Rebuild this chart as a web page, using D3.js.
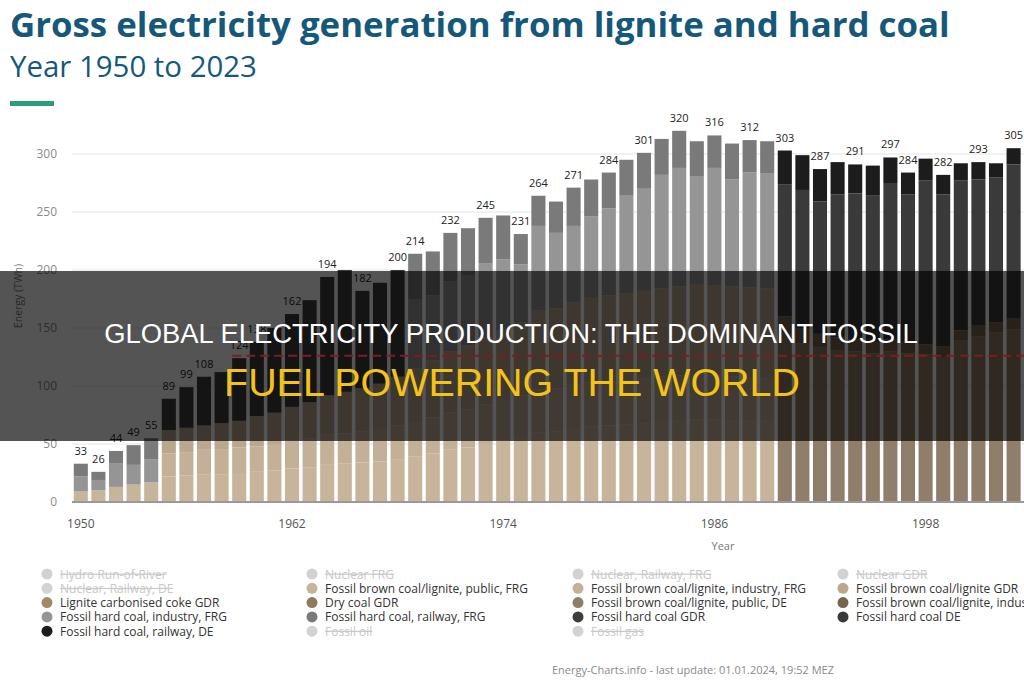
<!DOCTYPE html>
<html>
<head>
<meta charset="utf-8">
<script src="https://cdn.jsdelivr.net/npm/d3@7/dist/d3.min.js"></script>
<style>
  body { margin: 0; background: #fff; overflow: hidden; }
  svg { display: block; font-family: "Open Sans", sans-serif; }
</style>
</head>
<body>
<svg width="1024" height="680"></svg>
<script>
// years shown on the band axis (the chart runs to 2023, the picture is cut at ~2003)
const axisYears = d3.range(1950, 2024);
const tickYears = [1950, 1962, 1974, 1986, 1998];
const yTicks = [0, 50, 100, 150, 200, 250, 300];
const labelYears = [1950, 1951, 1952, 1953, 1954, 1955, 1956, 1957, 1959, 1960, 1962, 1964, 1966, 1968,
  1969, 1971, 1973, 1975, 1976, 1978, 1980, 1982, 1984, 1986, 1988, 1990, 1992, 1994, 1996, 1997,
  1999, 2001, 2003];

// TWh, each series starts at the year given in "parts" below
const brownPublicFRG = [9, 10, 13, 15, 17,
  22, 23, 24, 24, 25, 26, 27, 29, 30, 32, 33, 34, 35, 37,
  39, 42, 45, 47, 50, 53, 56, 60, 61, 63, 65, 66, 67, 68, 69, 70, 71, 71, 70, 70, 70];
const brownIndustryFRG = [20, 20, 21, 21, 22, 22, 23, 24, 25, 26, 26, 27, 28, 29,
  30, 31, 32, 33, 34, 35, 36, 37, 37, 38, 38, 38, 38, 39, 39, 39, 39, 38, 38, 37, 37];
const brownGDR = [20, 21, 21, 23, 23, 26, 27, 29, 31, 34, 36, 37, 39, 42,
  46, 49, 53, 55, 58, 60, 63, 68, 69, 71, 73, 74, 75, 75, 76, 77, 78, 78, 78, 78, 77];
const brownPublicDE = [145, 137, 133, 131, 130, 128, 130, 128, 127, 125, 139, 143, 146, 149];
const brownIndustryDE = [15, 13, 12, 11, 10, 10, 10, 10, 9, 9, 9, 9, 9, 9];
const hardIndustryFRGa = [13, 9, 20, 17, 20];
const hardIndustryFRGb = [60, 56, 60, 60, 64, 61, 50, 73, 65, 66, 70, 75, 84, 88, 98, 102, 93, 101, 92, 99, 99];
const hardGDR = [27, 35, 42, 44, 54, 64, 73, 80, 88, 102, 105, 84, 87, 92];
const hardDE = [114, 119, 114, 123, 126, 126, 135, 127, 141, 131, 129, 126, 125, 133];
const hardRailwayFRGa = [11, 7, 11, 17, 18];
const hardRailwayFRGb = [39, 38, 42, 41, 39, 38, 26, 26, 27, 33, 32, 31, 31, 31, 31, 32, 30, 28, 31, 28, 28];
const hardRailwayDE = [29, 30, 28, 28, 25, 26, 22, 19, 19, 17, 15, 15, 12, 14];
const refLine = 126;

const series = [
  { key: "Fossil brown coal/lignite, public, FRG", color: "#c7b59b", parts: [[1950, brownPublicFRG]] },
  { key: "Fossil brown coal/lignite, industry, FRG", color: "#c3b197", parts: [[1955, brownIndustryFRG]] },
  { key: "Fossil brown coal/lignite, GDR", color: "#b9a78e", parts: [[1955, brownGDR]] },
  { key: "Fossil brown coal/lignite, public, DE", color: "#8f7e69", parts: [[1990, brownPublicDE]] },
  { key: "Fossil brown coal/lignite, industry, DE", color: "#76644f", parts: [[1990, brownIndustryDE]] },
  { key: "Fossil hard coal, industry, FRG", color: "#959595", parts: [[1950, hardIndustryFRGa], [1969, hardIndustryFRGb]] },
  { key: "Fossil hard coal GDR", color: "#3d3d3d", parts: [[1955, hardGDR]] },
  { key: "Fossil hard coal DE", color: "#3a3a3a", parts: [[1990, hardDE]] },
  { key: "Fossil hard coal, railway, FRG", color: "#7a7a7a", parts: [[1950, hardRailwayFRGa], [1969, hardRailwayFRGb]] },
  { key: "Fossil hard coal, railway, DE", color: "#1c1c1c", parts: [[1990, hardRailwayDE]] }
];
const colorOf = {};
series.forEach(s => colorOf[s.key] = s.color);
colorOf["Fossil brown coal/lignite GDR"] = colorOf["Fossil brown coal/lignite, GDR"];
colorOf["Lignite carbonised coke GDR"] = "#a08a6a";
colorOf["Dry coal GDR"] = "#8e7a5c";

const legendNames = [
  "Hydro Run-of-River", "Nuclear FRG", "Nuclear, Railway, FRG", "Nuclear GDR",
  "Nuclear, Railway, DE", "Fossil brown coal/lignite, public, FRG", "Fossil brown coal/lignite, industry, FRG", "Fossil brown coal/lignite GDR",
  "Lignite carbonised coke GDR", "Dry coal GDR", "Fossil brown coal/lignite, public, DE", "Fossil brown coal/lignite, industry, DE",
  "Fossil hard coal, industry, FRG", "Fossil hard coal, railway, FRG", "Fossil hard coal GDR", "Fossil hard coal DE",
  "Fossil hard coal, railway, DE", "Fossil oil", "Fossil gas"
];

// rows for the stack
const rows = d3.range(1950, 2004).map(year => {
  const r = { year };
  series.forEach(s => {
    r[s.key] = 0;
    s.parts.forEach(([from, vals]) => {
      const i = year - from;
      if (i >= 0 && i < vals.length) r[s.key] = vals[i];
    });
  });
  return r;
});
const keys = series.map(s => s.key);

const svg = d3.select("svg");
const W = 1024;

const x = d3.scaleBand().domain(axisYears).range([72, 72 + axisYears.length * 17.6])
  .paddingInner(0.2).paddingOuter(0.1);
const y = d3.scaleLinear().domain([0, 300]).range([502, 154]);

// grid
svg.append("g").selectAll("line").data(yTicks.slice(1)).join("line")
  .attr("x1", 72).attr("x2", W).attr("y1", d => y(d)).attr("y2", d => y(d))
  .attr("stroke", "#eeeeee").attr("stroke-width", 1.5);

// y tick labels
svg.append("g").selectAll("text").data(yTicks).join("text")
  .attr("x", 57).attr("y", d => y(d) + 4).attr("text-anchor", "end")
  .attr("font-size", 12).attr("fill", "#8a8a8a").text(d => d);

svg.append("text").attr("transform", "translate(22,296) rotate(-90)")
  .attr("text-anchor", "middle").attr("font-size", 10.5).attr("fill", "#777")
  .text("Energy (TWh)");

// bars
const stacked = d3.stack().keys(keys)(rows);
svg.append("g").selectAll("g").data(stacked).join("g")
  .attr("fill", d => colorOf[d.key])
  .selectAll("rect").data(d => d.filter(p => p[1] > p[0])).join("rect")
  .attr("x", p => x(p.data.year)).attr("width", x.bandwidth())
  .attr("y", p => y(p[1])).attr("height", p => y(p[0]) - y(p[1]));

// totals
svg.append("g").selectAll("text").data(rows.filter(r => labelYears.includes(r.year))).join("text")
  .attr("x", r => x(r.year) + x.bandwidth() / 2)
  .attr("y", r => y(d3.sum(keys, k => r[k])) - 9)
  .attr("text-anchor", "middle").attr("font-size", 11).attr("fill", "#222")
  .text(r => d3.sum(keys, k => r[k]));

// x axis
const xAxis = svg.append("g").attr("transform", "translate(0,502)")
  .call(d3.axisBottom(x).tickValues(tickYears).tickSize(0).tickPadding(0));
xAxis.select(".domain").remove();
xAxis.selectAll("text").attr("y", 17).attr("font-size", 12).attr("fill", "#555")
  .attr("font-family", "Open Sans, sans-serif");
svg.append("line").attr("x1", 72).attr("x2", W).attr("y1", 502).attr("y2", 502)
  .attr("stroke", "#999").attr("stroke-width", 2);
svg.append("text").attr("x", 723).attr("y", 550).attr("text-anchor", "middle")
  .attr("font-size", 11).attr("fill", "#777").text("Year");

// overlay banner
svg.append("rect").attr("x", 0).attr("y", 271).attr("width", W).attr("height", 170)
  .attr("fill", "rgba(0,0,0,0.67)");
svg.append("line").attr("x1", x(1959)).attr("x2", W).attr("y1", y(refLine)).attr("y2", y(refLine))
  .attr("stroke", "#7d1d1d").attr("stroke-width", 2).attr("stroke-dasharray", "9,5");

function fit(sel, width) {
  const size = +sel.attr("font-size");
  const len = sel.node().getComputedTextLength();
  sel.attr("font-size", size * width / len);
  return sel;
}
fit(svg.append("text").attr("x", 511).attr("y", 343).attr("text-anchor", "middle")
  .attr("font-family", "Liberation Sans, Arial, sans-serif").attr("font-size", 25).attr("fill", "#ffffff")
  .text("GLOBAL ELECTRICITY PRODUCTION: THE DOMINANT FOSSIL"), 814);
fit(svg.append("text").attr("x", 512).attr("y", 396).attr("text-anchor", "middle")
  .attr("font-family", "Liberation Sans, Arial, sans-serif").attr("font-size", 36).attr("fill", "#f4c318")
  .text("FUEL POWERING THE WORLD"), 576);

// title
fit(svg.append("text").attr("x", 10).attr("y", 37).attr("font-size", 31).attr("font-weight", 700)
  .attr("fill", "#15587a").text("Gross electricity generation from lignite and hard coal"), 940);
fit(svg.append("text").attr("x", 10).attr("y", 77).attr("font-size", 28).attr("fill", "#15587a")
  .text("Year 1950 to 2023"), 247);
svg.append("rect").attr("x", 10).attr("y", 101).attr("width", 44).attr("height", 5).attr("fill", "#2a9d7f");

// legend
const colX = [47, 312, 578, 843];
const legend = svg.append("g").selectAll("g").data(legendNames).join("g")
  .attr("transform", (d, i) => `translate(${colX[i % 4]},${574 + Math.floor(i / 4) * 14.3})`);
legend.append("circle").attr("r", 5.5)
  .attr("fill", d => colorOf[d] || "#d2d2d2");
legend.append("text").attr("x", 13).attr("y", 4.5).attr("font-size", 12)
  .attr("fill", d => colorOf[d] ? "#333" : "#c8c8c8")
  .attr("text-decoration", d => colorOf[d] ? null : "line-through")
  .text(d => d);

svg.append("text").attr("x", 693).attr("y", 674).attr("text-anchor", "middle")
  .attr("font-size", 11).attr("fill", "#8a8a8a")
  .text("Energy-Charts.info - last update: 01.01.2024, 19:52 MEZ");
</script>
</body>
</html>
